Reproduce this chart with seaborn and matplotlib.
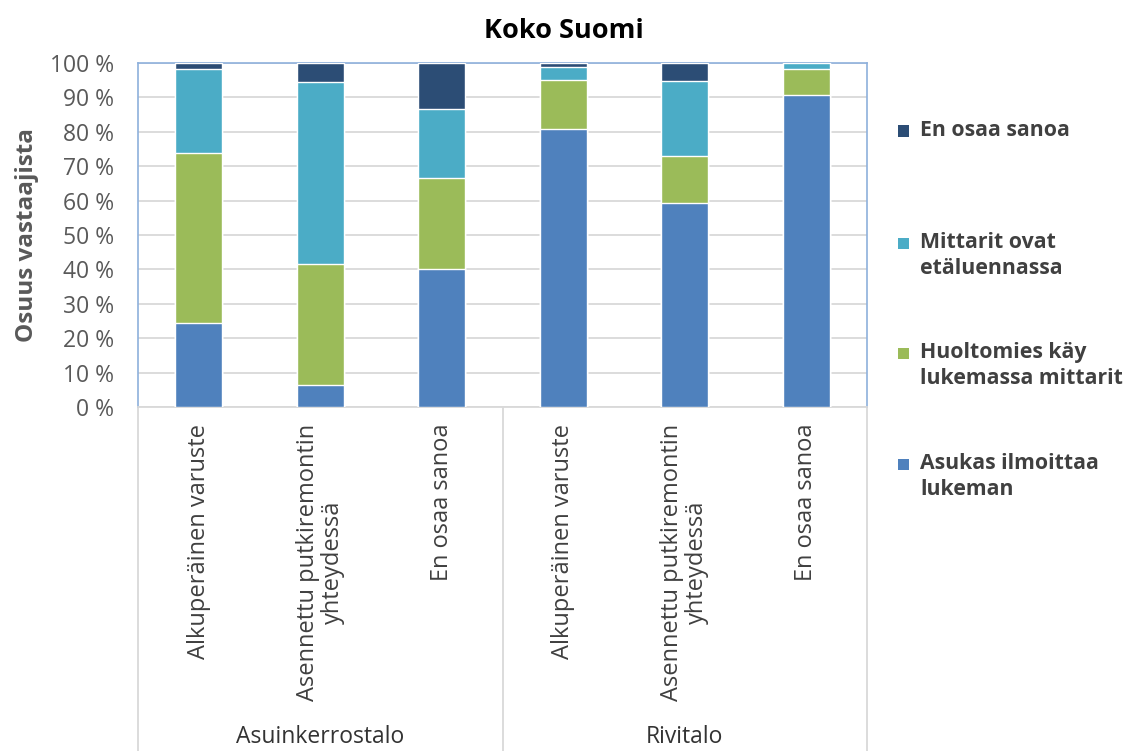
import matplotlib
matplotlib.use("Agg")
import matplotlib.pyplot as plt
from matplotlib.patches import Rectangle
import numpy as np
import pandas as pd
import seaborn as sns

# Building types (outer category level) and installation times (inner level)
groups = ["Asuinkerrostalo", "Rivitalo"]
categories = ["Alkuperäinen varuste", "Asennettu putkiremontin\nyhteydessä", "En osaa sanoa"]

# Reading method shares (%) per bar, in bar order
series_names = [
    "Asukas ilmoittaa\nlukeman",
    "Huoltomies käy\nlukemassa mittarit",
    "Mittarit ovat\netäluennassa",
    "En osaa sanoa",
]
asukas = [24.4, 6.3, 40.1, 80.9, 59.4, 90.7]
huoltomies = [49.4, 35.2, 26.4, 14.3, 13.7, 7.5]
etaluenta = [24.4, 53.1, 20.1, 3.5, 21.8, 1.8]
en_osaa = [1.8, 5.4, 13.4, 1.3, 5.1, 0.0]

series_colors = ["#4F81BD", "#9BBB59", "#4BACC6", "#2C4D75"]
yticks = [0, 10, 20, 30, 40, 50, 60, 70, 80, 90, 100]

keys = [f"{g}|{c}" for g in groups for c in categories]
df = pd.DataFrame({"key": keys})
values = [asukas, huoltomies, etaluenta, en_osaa]
cum = np.cumsum(np.array(values), axis=0)
for name, col in zip(series_names, cum):
    df[name] = col

sns.set_theme(style="white")
plt.rcParams["font.family"] = ["Open Sans", "DejaVu Sans"]

fig = plt.figure(figsize=(11.27, 7.51), dpi=100)
ax = fig.add_axes([138 / 1127, 1 - 407 / 751, (867 - 138) / 1127, (407 - 63) / 751])

# Stacked bars: draw cumulative totals from the top segment down
for name, color in reversed(list(zip(series_names, series_colors))):
    sns.barplot(data=df, x="key", y=name, order=keys, color=color,
                width=0.39, saturation=1, ax=ax, zorder=3)

ax.set_xlim(-0.5, 5.5)
ax.set_ylim(0, 100)
ax.set_yticks(yticks)
ax.set_yticklabels([f"{t} %" for t in yticks], fontsize=16.5, color="#595959")
ax.yaxis.grid(True, color="#D9D9D9", linewidth=1.3, zorder=0)
ax.set_axisbelow(True)
ax.tick_params(axis="both", length=0)
ax.tick_params(axis="y", pad=17)
ax.set_xlabel("")
ax.set_ylabel("Osuus vastaajista", fontsize=17.5, fontweight="bold", color="#595959", labelpad=8)

ax.set_xticks(range(len(keys)))
ax.set_xticklabels(categories * len(groups), rotation=90, fontsize=17, color="#404040",
                   ha="center", va="top", multialignment="center", linespacing=1.05)
ax.tick_params(axis="x", pad=12)

for side in ["left", "top", "right"]:
    ax.spines[side].set_color("#8EB0DC")
    ax.spines[side].set_linewidth(1.2)
ax.spines["bottom"].set_color("#D9D9D9")
ax.spines["bottom"].set_linewidth(1.3)

# Group separators and outer category labels below the axis
trans = ax.get_xaxis_transform()
for xs in [-0.5, 2.5, 5.5]:
    ax.plot([xs, xs], [0, -1.0], transform=trans, color="#D9D9D9", linewidth=1.3, clip_on=False)
label_y = -(749 - 407) / (407 - 63)
for i, g in enumerate(groups):
    ax.text(i * 3 + 1, label_y, g, transform=trans, ha="center", va="bottom",
            fontsize=16.5, color="#333333")

fig.text(0.5, 1 - 31 / 751, "Koko Suomi", ha="center", va="center",
         fontsize=19.5, fontweight="bold", color="#000000")

# Legend, listed from the top segment down
legend_y = [131, 243, 353, 464]
for y, name, color in zip(legend_y, reversed(series_names), reversed(series_colors)):
    fig.patches.append(Rectangle((898 / 1127, 1 - (y + 5.5) / 751), 11 / 1127, 11 / 751,
                                 transform=fig.transFigure, facecolor=color, edgecolor="none"))
    fig.text(920 / 1127, 1 - (y - 11) / 751, name, ha="left", va="top", fontsize=15.3,
             fontweight="bold", color="#404040", linespacing=1.3)

fig.savefig("out.png", dpi=100)
